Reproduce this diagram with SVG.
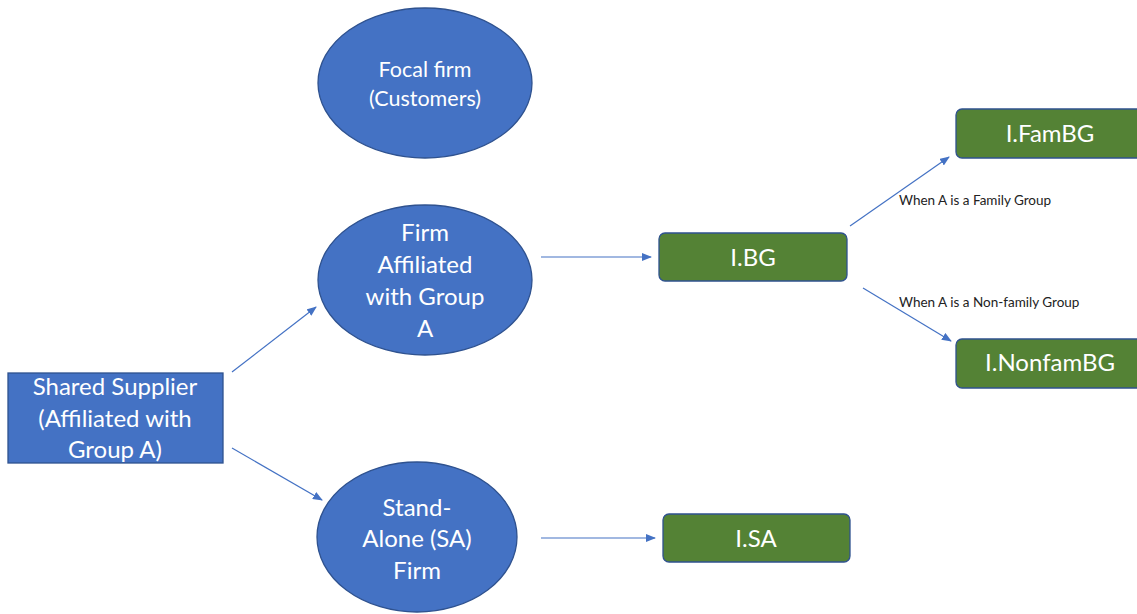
<svg xmlns="http://www.w3.org/2000/svg" width="1137" height="614" viewBox="0 0 1137 614">
<defs>
<marker id="ah" markerWidth="10" markerHeight="8" refX="9" refY="4" orient="auto" markerUnits="userSpaceOnUse">
<path d="M0,0 L10,4 L0,8 Z" fill="#4472C4"/>
</marker>
<style>
.blue{fill:#4472C4;stroke:#2F528F;stroke-width:1.3}
.green{fill:#548235;stroke:#2F528F;stroke-width:1.3}
.t{font-family:Lato,"Liberation Sans",sans-serif;fill:#fff;text-anchor:middle;dominant-baseline:central;font-size:24px}
.lbl{font-family:Lato,"Liberation Sans",sans-serif;fill:#222;font-size:13.5px;dominant-baseline:central}
.c{stroke:#4472C4;stroke-width:1.2;fill:none;marker-end:url(#ah)}
</style>
</defs>
<rect width="1137" height="614" fill="#fff"/>
<g id="focal">
<ellipse class="blue" cx="425" cy="83" rx="107" ry="75"/>
<text class="t" x="425" y="69" style="font-size:21.5px">Focal firm</text>
<text class="t" x="425" y="98" style="font-size:21.5px">(Customers)</text>
</g>
<g id="affiliated">
<ellipse class="blue" cx="425" cy="280" rx="107" ry="75"/>
<text class="t" x="425" y="231">Firm</text>
<text class="t" x="425" y="263">Affiliated</text>
<text class="t" x="425" y="295">with Group</text>
<text class="t" x="425" y="327">A</text>
</g>
<g id="standalone">
<ellipse class="blue" cx="417" cy="537" rx="100" ry="75"/>
<text class="t" x="417" y="506">Stand-</text>
<text class="t" x="417" y="537">Alone (SA)</text>
<text class="t" x="417" y="569">Firm</text>
</g>
<g id="supplier">
<rect class="blue" x="8" y="373" width="215" height="90"/>
<text class="t" x="115" y="385">Shared Supplier</text>
<text class="t" x="115" y="417">(Affiliated with</text>
<text class="t" x="115" y="448">Group A)</text>
</g>
<g id="ibg">
<rect class="green" x="659" y="233" width="188" height="48" rx="6"/>
<text class="t" x="753" y="256">I.BG</text>
</g>
<g id="ifambg">
<rect class="green" x="956" y="109" width="190" height="49" rx="6"/>
<text class="t" x="1050" y="132">I.FamBG</text>
</g>
<g id="inonfambg">
<rect class="green" x="956" y="339" width="190" height="49" rx="6"/>
<text class="t" x="1050" y="361">I.NonfamBG</text>
</g>
<g id="isa">
<rect class="green" x="663" y="514" width="187" height="48" rx="6"/>
<text class="t" x="756" y="537">I.SA</text>
</g>
<g id="connectors">
<line class="c" x1="232" y1="372" x2="316" y2="307"/>
<line class="c" x1="232" y1="448" x2="322" y2="500"/>
<line class="c" x1="541" y1="257" x2="651" y2="257"/>
<line class="c" x1="541" y1="538" x2="655" y2="538"/>
<line class="c" x1="850" y1="226" x2="949" y2="157"/>
<line class="c" x1="863" y1="288" x2="951" y2="341"/>
<text class="lbl" x="899" y="200">When A is a Family Group</text>
<text class="lbl" x="899" y="302">When A is a Non-family Group</text>
</g>
</svg>
